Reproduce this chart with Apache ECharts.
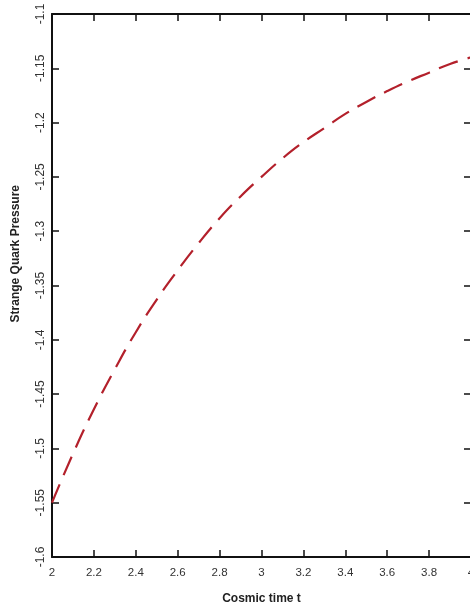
<!DOCTYPE html>
<html>
<head>
<meta charset="utf-8">
<script src="https://cdn.jsdelivr.net/npm/echarts@6/dist/echarts.min.js"></script>
<style>
html,body{margin:0;padding:0;background:#fff;overflow:hidden;width:470px;height:604px;}
#chart{width:470px;height:604px;position:absolute;left:0;top:0;}
</style>
</head>
<body>
<div id="chart"></div>
<script>
var timeValues = [2.0, 2.1, 2.2, 2.3, 2.4, 2.5, 2.6, 2.7, 2.8, 2.9, 3.0, 3.1, 3.2, 3.3, 3.4, 3.5, 3.6, 3.7, 3.8, 3.9, 4.0];
var pressureValues = [-1.550, -1.505, -1.464, -1.427, -1.393, -1.363, -1.336, -1.311, -1.288, -1.268, -1.250, -1.233, -1.218, -1.205, -1.192, -1.181, -1.171, -1.162, -1.154, -1.146, -1.140];
var xTitle = 'Cosmic time t';
var yTitle = 'Strange Quark Pressure';

var seriesData = timeValues.map(function (t, i) { return [t, pressureValues[i]]; });

var chart = echarts.init(document.getElementById('chart'), null, {renderer: 'canvas', width: 470, height: 604});
var fontFam = 'Liberation Sans, Arial, sans-serif';
var axisLineStyle = {color: '#111', width: 2};
var tickStyle = {show: true, inside: true, length: 7, lineStyle: {color: '#111', width: 1.5}};

chart.setOption({
  animation: false,
  backgroundColor: '#fff',
  grid: {left: 52, top: 14, width: 419, height: 543, containLabel: false, outerBoundsMode: 'none'},
  xAxis: [{
    type: 'value', min: 2, max: 4, interval: 0.2, position: 'bottom',
    name: xTitle, nameLocation: 'middle', nameGap: 36,
    nameTextStyle: {fontFamily: fontFam, fontSize: 12, fontWeight: 'bold', color: '#222'},
    axisLine: {show: true, onZero: false, lineStyle: axisLineStyle},
    axisTick: tickStyle,
    axisLabel: {margin: 10, fontFamily: fontFam, fontSize: 11.5, color: '#333',
      formatter: function (v) { return String(Math.round(v * 10) / 10); }},
    splitLine: {show: false}
  }, {
    type: 'value', min: 2, max: 4, interval: 0.2, position: 'top',
    axisLine: {show: true, onZero: false, lineStyle: axisLineStyle},
    axisTick: tickStyle,
    axisLabel: {show: false},
    splitLine: {show: false}
  }],
  yAxis: [{
    type: 'value', min: -1.6, max: -1.1, interval: 0.05, position: 'left',
    axisLine: {show: true, onZero: false, lineStyle: axisLineStyle},
    axisTick: tickStyle,
    axisLabel: {rotate: 90, margin: 5, fontFamily: fontFam, fontSize: 12, color: '#333',
      formatter: function (v) { return String(Math.round(v * 100) / 100); }},
    splitLine: {show: false}
  }, {
    type: 'value', min: -1.6, max: -1.1, interval: 0.05, position: 'right',
    axisLine: {show: true, onZero: false, lineStyle: axisLineStyle},
    axisTick: tickStyle,
    axisLabel: {show: false},
    splitLine: {show: false}
  }],
  graphic: [{
    type: 'text', left: 10, top: 185, rotation: Math.PI / 2,
    style: {text: yTitle, font: 'bold 12px ' + fontFam, fill: '#222'}
  }],
  series: [{
    type: 'line', xAxisIndex: 0, yAxisIndex: 0,
    data: seriesData, smooth: true, showSymbol: false,
    lineStyle: {color: '#b3202b', width: 2.2, type: [20, 10]}
  }]
});
</script>
</body>
</html>
